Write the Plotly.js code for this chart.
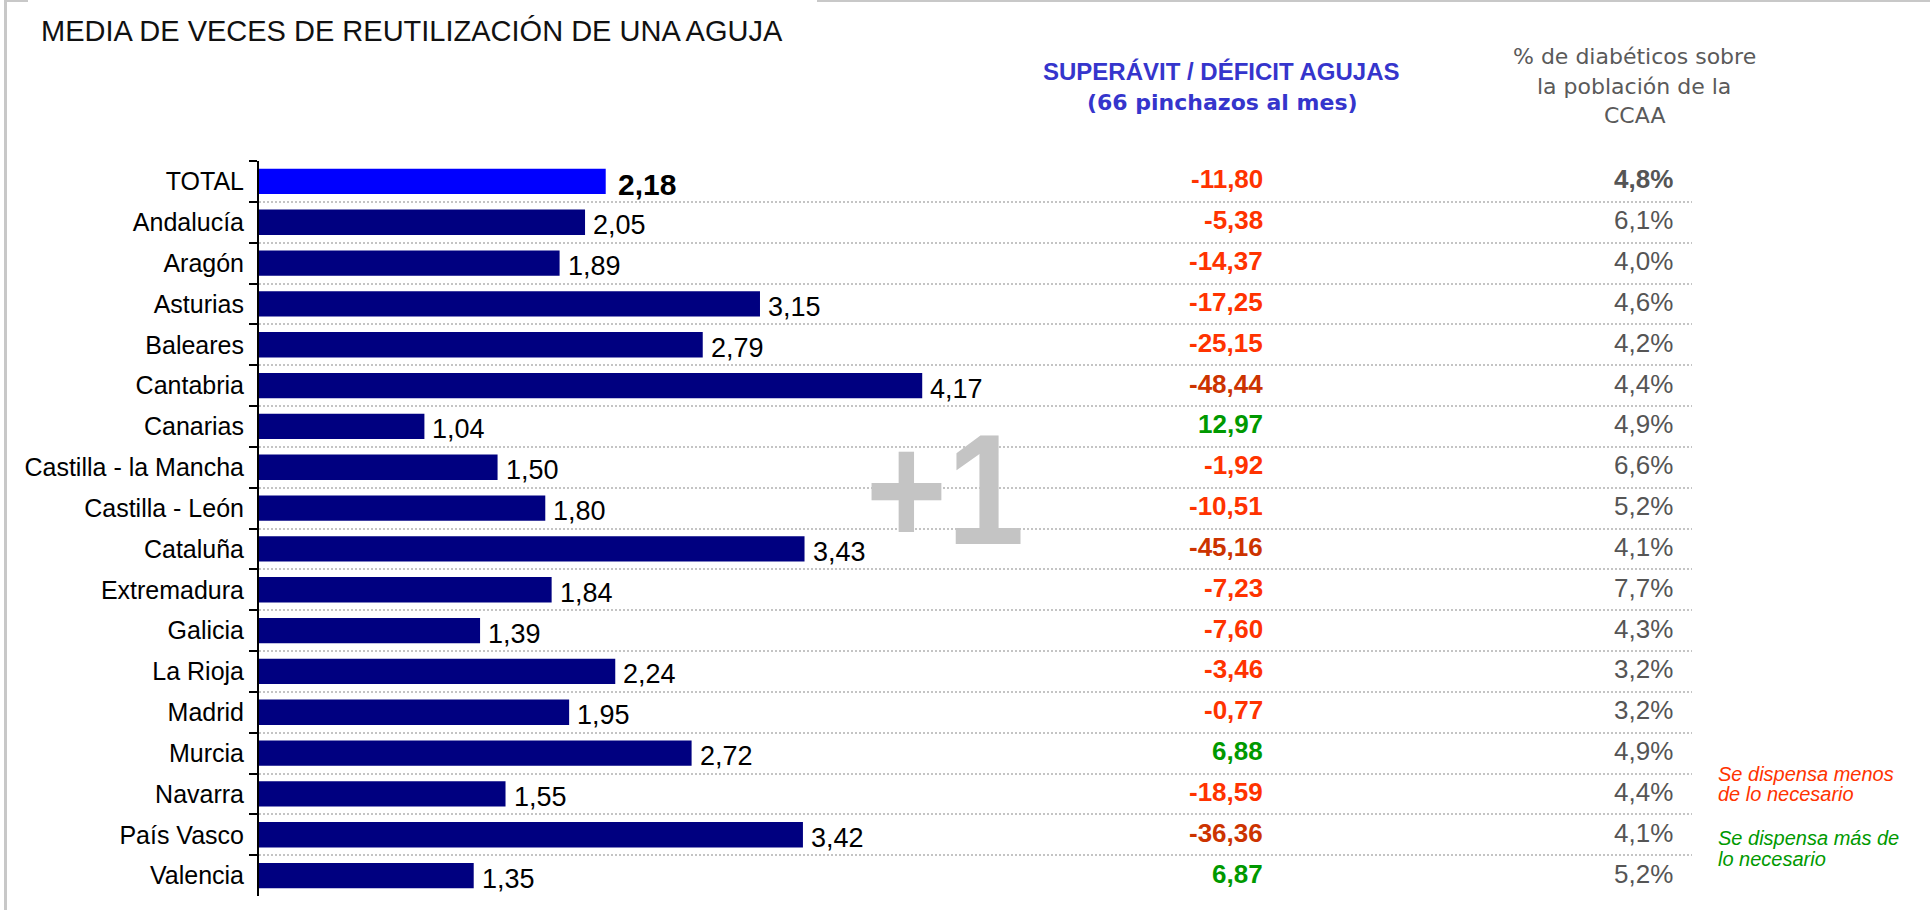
<!DOCTYPE html>
<html>
<head>
<meta charset="utf-8">
<script src="https://cdn.plot.ly/plotly-3.0.1.min.js"></script>
<style>
html,body{margin:0;padding:0;background:#fff;overflow:hidden;}
#chart{width:1930px;height:910px;position:relative;}
.bd{position:absolute;background:#c8c8c8;z-index:5;}
</style>
</head>
<body>
<div id="chart"></div>
<div class="bd" style="left:4px;top:0;width:3px;height:910px;"></div>
<div class="bd" style="left:4px;top:0;width:24px;height:2px;"></div>
<div class="bd" style="left:817px;top:0;width:1113px;height:2px;"></div>
<script>
// ---- data ----
const regions = ["TOTAL","Andalucía","Aragón","Asturias","Baleares","Cantabria","Canarias",
  "Castilla - la Mancha","Castilla - León","Cataluña","Extremadura","Galicia","La Rioja",
  "Madrid","Murcia","Navarra","País Vasco","Valencia"];
const reuseAvg = [2.18,2.05,1.89,3.15,2.79,4.17,1.04,1.50,1.80,3.43,1.84,1.39,2.24,1.95,2.72,1.55,3.42,1.35];
const needleBalance = [-11.80,-5.38,-14.37,-17.25,-25.15,-48.44,12.97,-1.92,-10.51,-45.16,-7.23,-7.60,-3.46,-0.77,6.88,-18.59,-36.36,6.87];
const diabeticPct = [4.8,6.1,4.0,4.6,4.2,4.4,4.9,6.6,5.2,4.1,7.7,4.3,3.2,3.2,4.9,4.4,4.1,5.2];
const titleText = "MEDIA DE VECES DE REUTILIZACIÓN DE UNA AGUJA";
const balanceHeader = ["SUPERÁVIT / DÉFICIT AGUJAS","(66 pinchazos al mes)"];
const pctHeader = ["% de diabéticos sobre","la población de la","CCAA"];
const noteLess = ["Se dispensa menos","de lo necesario"];
const noteMore = ["Se dispensa más de","lo necesario"];
const watermark = "+1";

// ---- layout geometry ----
const W = 1930, H = 910;
const L = 259, R = 1692, T = 161, B = 896;
const px = x => (x - L) / (R - L);
const py = y => (B - y) / (B - T);
const FONT = "Liberation Sans, Arial, sans-serif";

const fmt = (v, d) => v.toFixed(d).replace('.', ',');
const barColors = regions.map((r, i) => i === 0 ? '#0000ff' : '#000080');
const balColor = v => v > 0 ? '#009900' : (v < -30 ? '#cc3300' : '#ff3300');

const annotations = [];
regions.forEach((r, i) => {
  // bar value labels
  annotations.push({
    xref: 'x', yref: 'y', x: reuseAvg[i], y: r, xanchor: 'left', yanchor: 'middle',
    xshift: i === 0 ? 10 : 6, yshift: -3, showarrow: false,
    text: i === 0 ? '<b>' + fmt(reuseAvg[i], 2) + '</b>' : fmt(reuseAvg[i], 2),
    font: {family: FONT, size: i === 0 ? 30 : 27, color: '#000000'}
  });
  annotations.push({
    xref: 'paper', yref: 'y', x: px(1265), y: r, xanchor: 'right', yanchor: 'middle',
    text: '<b>' + fmt(needleBalance[i], 2) + '</b>', showarrow: false, yshift: 2,
    font: {family: FONT, size: 26, color: balColor(needleBalance[i])}
  });
  annotations.push({
    xref: 'paper', yref: 'y', x: px(1675), y: r, xanchor: 'right', yanchor: 'middle',
    text: i === 0 ? '<b>' + fmt(diabeticPct[i], 1) + '%</b>' : fmt(diabeticPct[i], 1) + '%',
    showarrow: false, yshift: 2,
    font: {family: FONT, size: 26, color: '#555555'}
  });
});
annotations.push({xref:'paper', yref:'paper', x: px(412), y: py(31), xanchor:'center', yanchor:'middle',
  text: titleText, showarrow:false, font:{family: FONT, size: 29, color:'#111111'}});
annotations.push({xref:'paper', yref:'paper', x: px(1221), y: py(71), xanchor:'center', yanchor:'middle',
  text:'<b>' + balanceHeader[0] + '</b>', showarrow:false,
  font:{family: FONT, size: 24, color:'#3535cc'}});
annotations.push({xref:'paper', yref:'paper', x: px(1222), y: py(102), xanchor:'center', yanchor:'middle',
  text:'<b>' + balanceHeader[1] + '</b>', showarrow:false,
  font:{family: "DejaVu Sans, sans-serif", size: 22, color:'#3535cc'}});
pctHeader.forEach((t, k) => annotations.push({xref:'paper', yref:'paper', x: px(1634), y: py(57 + k*29),
  xanchor:'center', yanchor:'middle', text: t, showarrow:false,
  font:{family: "DejaVu Sans, sans-serif", size: 22, color:'#5a5a5a'}}));
noteLess.forEach((t, k) => annotations.push({xref:'paper', yref:'paper', x: px(1716), y: py(774 + k*20),
  xanchor:'left', yanchor:'middle', text:'<i>' + t + '</i>', showarrow:false,
  font:{family: FONT, size: 20, color:'#ff3300'}}));
noteMore.forEach((t, k) => annotations.push({xref:'paper', yref:'paper', x: px(1716), y: py(838 + k*21),
  xanchor:'left', yanchor:'middle', text:'<i>' + t + '</i>', showarrow:false,
  font:{family: FONT, size: 20, color:'#009900'}}));
annotations.push({xref:'paper', yref:'paper', x: px(945), y: py(489), xanchor:'center', yanchor:'middle',
  text:'<b>' + watermark + '</b>', showarrow:false,
  font:{family: FONT, size: 158, color:'#c4c4c4'}});

const trace = {
  type: 'bar', orientation: 'h', x: reuseAvg, y: regions,
  marker: {color: barColors, line: {width: 0}},
  hoverinfo: 'none'
};

const layout = {
  width: W, height: H,
  margin: {l: L, r: W - R, t: T, b: H - B, pad: 0},
  paper_bgcolor: '#ffffff', plot_bgcolor: 'rgba(0,0,0,0)',
  showlegend: false, bargap: 0.38,
  xaxis: {range: [0, 9.01], visible: false, fixedrange: true},
  yaxis: {
    type: 'category', range: [17.5, -0.5], tickson: 'boundaries',
    ticks: 'outside', ticklen: 8, tickwidth: 2, tickcolor: '#000000',
    showline: true, linecolor: '#000000', linewidth: 2,
    showgrid: true, gridcolor: '#c4c4c4', gridwidth: 2, griddash: '2px,2px',
    zeroline: false, ticklabelstandoff: 8,
    tickfont: {family: FONT, size: 25, color: '#000000'}
  },
  annotations: annotations
};

Plotly.newPlot('chart', [trace], layout, {staticPlot: true, displayModeBar: false}).then(gd => {
  // condense the big watermark horizontally, like the narrow face of the original
  gd.querySelectorAll('g.annotation text').forEach(t => {
    if (t.textContent === watermark) {
      t.style.transformBox = 'fill-box';
      t.style.transformOrigin = 'center';
      t.style.transform = 'scaleX(0.88)';
    }
  });
});
</script>
</body>
</html>
